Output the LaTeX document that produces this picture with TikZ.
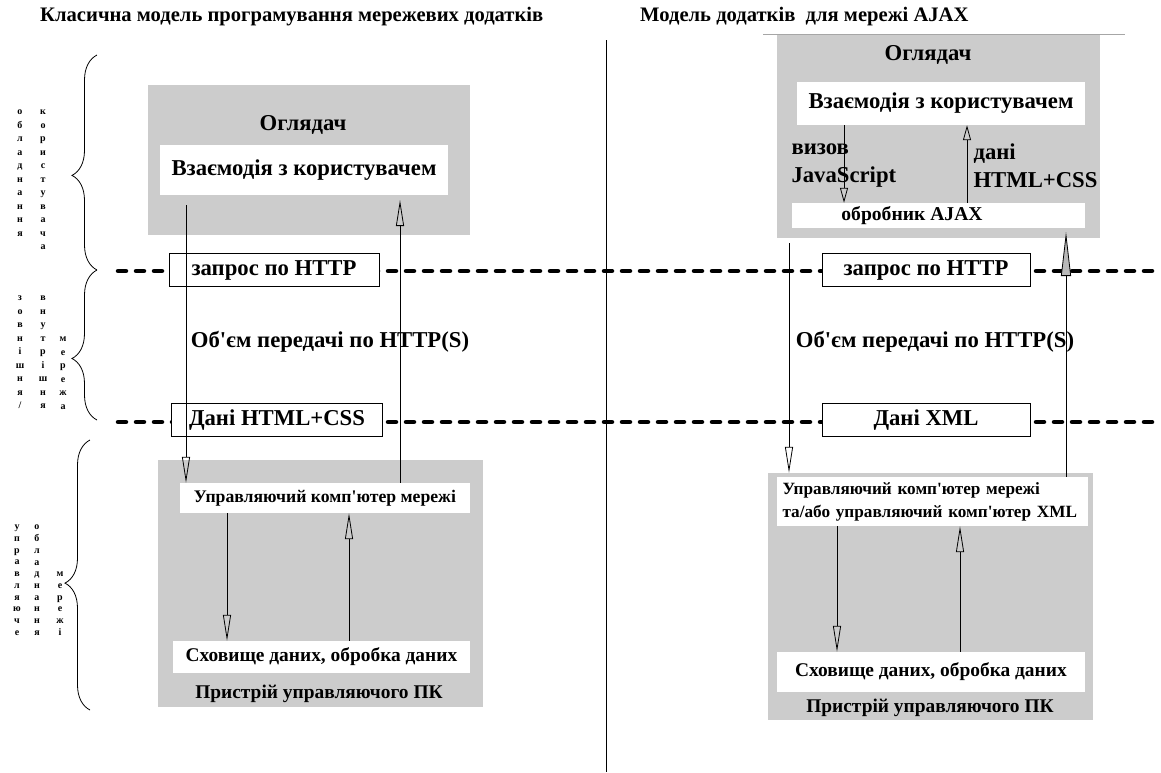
\documentclass[tikz,border=0pt]{standalone}
\usepackage{fontspec}
\setmainfont{Liberation Serif}
\usetikzlibrary{arrows.meta,decorations.pathreplacing}

\newcommand{\ttltxt}{\fontsize{20.6}{24}\selectfont\bfseries}
\newcommand{\bigtxt}{\fontsize{22.7}{28}\selectfont\bfseries}
\newcommand{\midtxt}{\fontsize{19.6}{23}\selectfont\bfseries}
\newcommand{\srvtxt}{\fontsize{17.7}{23}\selectfont\bfseries}
\newcommand{\smalltxt}{\fontsize{19.4}{23}\selectfont\bfseries}

\begin{document}
\begin{tikzpicture}[x=1pt,y=-1pt,
  graybox/.style={fill=gray!40,inner sep=0pt},
  whitebox/.style={fill=white,inner sep=0pt},
  framebox/.style={draw,fill=white,line width=0.8pt,inner sep=0pt,font=\bigtxt},
  layer/.style={line width=4.5pt,line cap=round,dash pattern=on 8pt off 10pt},
  bigarr/.style={line width=0.8pt,-{Triangle[open,length=26pt,width=8pt]}},
  smallarr/.style={line width=0.8pt,-{Triangle[open,length=15pt,width=8pt]}},
  grayarr/.style={line width=0.8pt,-{Triangle[fill=gray!55,length=44pt,width=10pt]}},
  letters/.style={font=\fontsize{10}{13.5}\selectfont\bfseries,align=center,inner sep=0pt,anchor=north},
  brace/.style={decorate,line width=0.8pt,decoration={brace,amplitude=25pt,aspect=#1}}]
\useasboundingbox (0,0) rectangle (1161,772);

\node[font=\ttltxt,anchor=west,inner sep=0pt] (ltitle) at (40,17) {Класична модель програмування мережевих додатків};
\node[font=\ttltxt,anchor=west,inner sep=0pt] (rtitle) at (640,17) {Модель додатків \ для мережі AJAX};
\draw[line width=0.8pt] (606,40) -- (606,772);

\draw[brace=0.44] (97,270) -- (97,55);
\draw[brace=0.41] (97,420) -- (97,270);
\draw[brace=0.47] (90,710) -- (90,440);

\node[letters] (ucol1) at (20,110) {о\\б\\л\\а\\д\\н\\а\\н\\н\\я};
\node[letters] (ucol2) at (43,110) {к\\о\\р\\и\\с\\т\\у\\в\\а\\ч\\а};
\node[letters] (ncol1) at (20,296) {з\\о\\в\\н\\і\\ш\\н\\я\\/};
\node[letters] (ncol2) at (43,296) {в\\н\\у\\т\\р\\і\\ш\\н\\я};
\node[letters] (ncol3) at (63,337) {м\\е\\р\\е\\ж\\а};
\node[letters,font=\fontsize{10}{11.7}\selectfont\bfseries] (scol1) at (17,525) {у\\п\\р\\а\\в\\л\\я\\ю\\ч\\е};
\node[letters,font=\fontsize{10}{11.7}\selectfont\bfseries] (scol2) at (37,525) {о\\б\\л\\а\\д\\н\\а\\н\\н\\я};
\node[letters,font=\fontsize{10}{11.7}\selectfont\bfseries] (scol3) at (60,572) {м\\е\\р\\е\\ж\\і};

\draw[layer] (118,271) -- (1161,271);
\draw[layer] (118,422) -- (1161,422);

\node[graybox,minimum width=322pt,minimum height=150pt] (lbrowser) at (309,160) {};
\node[font=\bigtxt] (lbtitle) at (303,125) {Оглядач};
\node[whitebox,minimum width=288pt,minimum height=50pt,font=\bigtxt] (luser) at (304,170) {Взаємодія з користувачем};

\node[framebox,minimum width=210pt,minimum height=33pt] (lreq) at (274,270) {запрос по HTTP};
\node[framebox,minimum width=211pt,minimum height=33pt] (ldata) at (277,420) {Дані HTML+CSS};
\node[font=\bigtxt] (lvol) at (330,342) {Об\textquotesingle єм передачі по HTTP(S)};

\node[graybox,minimum width=325pt,minimum height=247pt] (lpc) at (320.5,583.5) {};
\node[whitebox,minimum width=290pt,minimum height=30pt,font=\srvtxt] (lserver) at (325,498) {Управляючий комп\textquotesingle ютер мережі};
\node[whitebox,minimum width=297pt,minimum height=32pt,font=\smalltxt] (lstore) at (321.5,657) {Сховище даних, обробка даних};
\node[font=\smalltxt] (lpctitle) at (319,694) {Пристрій управляючого ПК};

\coordinate (lsend) at (186,205);
\coordinate (lrecv) at (400,200);
\draw[bigarr] (lsend) -- (lsend |- lserver.north);
\draw[bigarr] (lrecv |- lserver.north) -- (lrecv);
\draw[bigarr] (227,0 |- lserver.south) -- (227,0 |- lstore.north);
\draw[bigarr] (349,0 |- lstore.north) -- (349,0 |- lserver.south);

\draw[gray!70,line width=0.8pt] (763,34) -- (1125,34);
\node[graybox,minimum width=323pt,minimum height=203pt] (rbrowser) at (938.5,136.5) {};
\node[font=\bigtxt] (rbtitle) at (928,55) {Оглядач};
\node[whitebox,minimum width=288pt,minimum height=43pt,font=\bigtxt] (ruser) at (941,103.5) {Взаємодія з користувачем};
\node[whitebox,minimum width=293pt,minimum height=25pt] (rajax) at (938.5,215.5) {};
\node[font=\midtxt] (rajaxtxt) at (912,216) {обробник AJAX};
\node[font=\bigtxt,align=left,anchor=west] (rcall) at (788,166) {визов\\JavaScript};
\node[font=\bigtxt,align=left,anchor=west] (rhtml) at (970,166) {дані\\HTML+CSS};
\draw[smallarr] (844,0 |- ruser.south) -- (844,0 |- rajax.north);
\draw[smallarr] (967,0 |- rajax.north) -- (967,0 |- ruser.south);

\node[framebox,minimum width=208pt,minimum height=33pt] (rreq) at (926,270) {запрос по HTTP};
\node[framebox,minimum width=208pt,minimum height=33pt] (rdata) at (926,420) {Дані XML};
\node[font=\bigtxt] (rvol) at (935,342) {Об\textquotesingle єм передачі по HTTP(S)};

\node[graybox,minimum width=325pt,minimum height=247pt] (rpc) at (930.5,596.5) {};
\node[whitebox,text width=300pt,inner xsep=5.5pt,minimum height=49pt,align=left,font=\fontsize{17.2}{23}\selectfont\bfseries] (rserver) at (932.5,501.5) {Управляючий комп\textquotesingle ютер мережі\\та/або управляючий комп\textquotesingle ютер XML};
\node[whitebox,minimum width=308pt,minimum height=40pt,font=\smalltxt] (rstore) at (931,672) {Сховище даних, обробка даних};
\node[font=\smalltxt] (rpctitle) at (930,708) {Пристрій управляючого ПК};

\coordinate (rsend) at (789,243);
\coordinate (rrecv) at (1066,232);
\draw[bigarr] (rsend) -- (rsend |- rpc.north);
\draw[grayarr] (rrecv |- rserver.north) -- (rrecv);
\draw[bigarr] (837,0 |- rserver.south) -- (837,0 |- rstore.north);
\draw[bigarr] (960,0 |- rstore.north) -- (960,0 |- rserver.south);
\end{tikzpicture}
\end{document}
